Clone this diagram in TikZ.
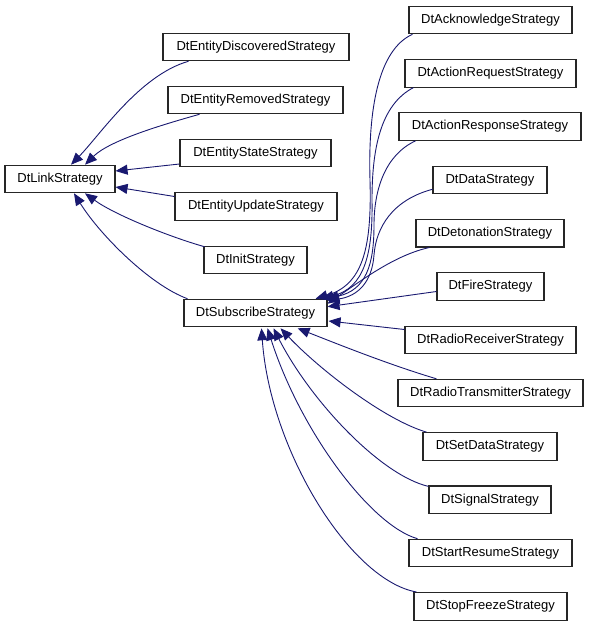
\documentclass[tikz,border=0pt]{standalone}
\usepackage{fontspec}
\setmainfont{Liberation Sans}
\usetikzlibrary{arrows.meta,calc}
\definecolor{edgeblue}{HTML}{191970}
\tikzset{
  cls/.style={draw=black!85, line width=1.1pt, rectangle, inner sep=0pt, minimum height=27.5pt, font=\fontsize{13}{15}\selectfont, fill=white},
  inh/.style={draw=edgeblue, line width=0.9pt, -{Triangle[length=12pt,width=10pt]}, color=edgeblue}
}
\begin{document}
\begin{tikzpicture}[x=1pt,y=-1pt]
\useasboundingbox (0,0) rectangle (589,627);
% left side
\node[cls, minimum width=110pt] (link) at (60,179) {DtLinkStrategy};
\node[cls, minimum width=186pt] (disc) at (256,47) {DtEntityDiscoveredStrategy};
\node[cls, minimum width=175pt] (rem) at (255.5,100) {DtEntityRemovedStrategy};
\node[cls, minimum width=151pt] (state) at (255.5,153) {DtEntityStateStrategy};
\node[cls, minimum width=162pt] (upd) at (256,206.5) {DtEntityUpdateStrategy};
\node[cls, minimum width=103pt] (init) at (255.5,260) {DtInitStrategy};
\node[cls, minimum width=143pt] (sub) at (255.5,313) {DtSubscribeStrategy};
% right column
\node[cls, minimum width=163pt] (ack) at (490.5,20) {DtAcknowledgeStrategy};
\node[cls, minimum width=171pt] (areq) at (490.5,73.3) {DtActionRequestStrategy};
\node[cls, minimum width=182pt] (aresp) at (490,126.6) {DtActionResponseStrategy};
\node[cls, minimum width=114pt] (data) at (490,180) {DtDataStrategy};
\node[cls, minimum width=148pt] (det) at (490,233.2) {DtDetonationStrategy};
\node[cls, minimum width=107pt] (fire) at (490.5,286.5) {DtFireStrategy};
\node[cls, minimum width=171pt] (rrec) at (490.5,339.8) {DtRadioReceiverStrategy};
\node[cls, minimum width=185pt] (rtx) at (490.5,393.1) {DtRadioTransmitterStrategy};
\node[cls, minimum width=134pt] (setd) at (490,446.4) {DtSetDataStrategy};
\node[cls, minimum width=122pt] (sig) at (490,499.7) {DtSignalStrategy};
\node[cls, minimum width=163pt] (start) at (490.5,553) {DtStartResumeStrategy};
\node[cls, minimum width=153pt] (stop) at (490.5,606.3) {DtStopFreezeStrategy};

% edges to DtLinkStrategy
\draw[inh] ($(disc.south west)+(26,0)$) .. controls (140,75) and (100,135) .. ($(link.north)+(11,0)$);
\draw[inh] ($(rem.south west)+(32,0)$) .. controls (165,124) and (110,140) .. ($(link.north)+(25,0)$);
\draw[inh] ($(state.west)+(0,11)$) -- ($(link.east)+(0,-8)$);
\draw[inh] ($(upd.west)+(0,-10)$) -- ($(link.east)+(0,8)$);
\draw[inh] ($(init.north west)+(1,1)$) .. controls (170,237) and (115,215) .. ($(link.south)+(25,0)$);
\draw[inh] ($(sub.north west)+(4,0)$) .. controls (150,285) and (100,235) .. ($(link.south)+(14,0)$);

% edges to DtSubscribeStrategy (top)
\draw[inh] ($(ack.south west)+(4,0)$) .. controls (378,50) and (368,110) .. (370,180) .. controls (372,250) and (362,285) .. ($(sub.north east)+(-12,0)$);
\draw[inh] ($(areq.south west)+(9,0)$) .. controls (380,105) and (372,150) .. (372,200) .. controls (373,255) and (364,288) .. ($(sub.north east)+(-6,0)$);
\draw[inh] ($(aresp.south west)+(17,0)$) .. controls (385,155) and (374,190) .. (374,225) .. controls (374,265) and (366,290) .. ($(sub.north east)+(-1,0)$);
\draw[inh] ($(data.south west)+(0,-5)$) .. controls (392,200) and (376,228) .. (374,255) .. controls (372,282) and (358,296) .. ($(sub.north east)+(0,2)$);
\draw[inh] ($(det.south west)+(14,0)$) .. controls (395,255) and (362,280) .. ($(sub.north east)+(0,5)$);
\draw[inh] ($(fire.west)+(0,5)$) -- ($(sub.north east)+(0,8)$);
\draw[inh] ($(rrec.north west)+(0,4)$) -- ($(sub.east)+(1,8)$);
% edges to DtSubscribeStrategy (bottom)
\draw[inh] ($(rtx.north west)+(39,0)$) .. controls (390,365) and (340,345) .. ($(sub.south east)+(-30,1)$);
\draw[inh] ($(setd.north west)+(4,0)$) .. controls (385,420) and (320,370) .. ($(sub.south)+(25,1)$);
\draw[inh] ($(sig.north west)+(0,1)$) .. controls (380,475) and (310,400) .. ($(sub.south)+(18,1)$);
\draw[inh] ($(start.north west)+(9,0)$) .. controls (370,525) and (300,430) .. ($(sub.south)+(12,1)$);
\draw[inh] ($(stop.north west)+(3,0)$) .. controls (350,580) and (270,450) .. ($(sub.south)+(6,1)$);
\end{tikzpicture}
\end{document}
